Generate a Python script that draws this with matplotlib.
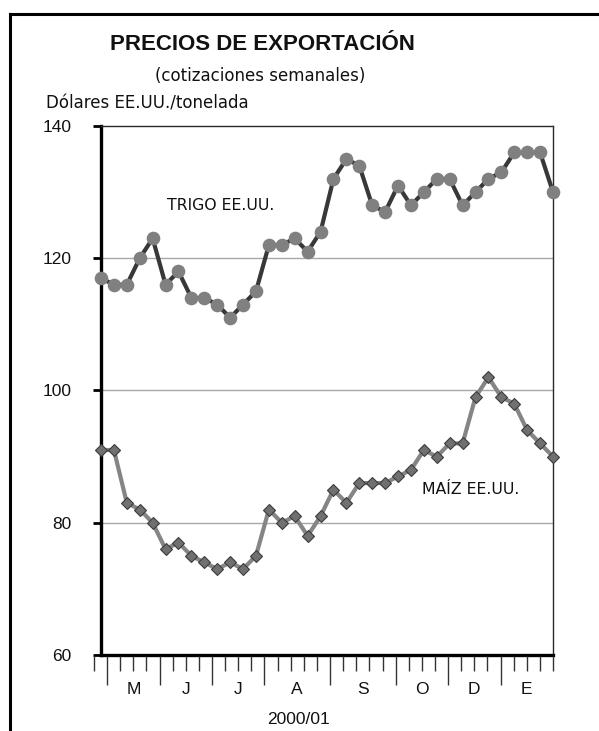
import numpy as np
import matplotlib
matplotlib.use("Agg")
import matplotlib.pyplot as plt
import matplotlib.transforms as mtransforms
from matplotlib.lines import Line2D

plt.rcParams['font.family'] = ['Liberation Sans', 'DejaVu Sans']

# ---- data ----
wheat = [117, 116, 116, 120, 123, 116, 118, 114, 114, 113, 111, 113, 115, 122, 122, 123,
         121, 124, 132, 135, 134, 128, 127, 131, 128, 130, 132, 132, 128, 130, 132, 133,
         136, 136, 136, 130]
maize = [91, 91, 83, 82, 80, 76, 77, 75, 74, 73, 74, 73, 75, 82, 80, 81,
         78, 81, 85, 83, 86, 86, 86, 87, 88, 91, 90, 92, 92, 99, 102, 99,
         98, 94, 92, 90]
months = ['M', 'J', 'J', 'A', 'S', 'O', 'D', 'E']
month_bounds = [1, 5, 9, 13, 18, 23, 27, 31, 35]
yticks = [60, 80, 100, 120, 140]

W, H = 599, 731
fig = plt.figure(figsize=(W / 100, H / 100), dpi=100)


def fx(x):
    return x / W


def fy(y):
    return 1 - y / H


L, R, T, B = 101, 553, 126, 655
ax = fig.add_axes([fx(L), fy(B), (R - L) / W, (B - T) / H])
x = np.arange(len(wheat))
ax.set_xlim(0, len(wheat) - 1)
ax.set_ylim(60, 140)

for v in yticks[1:-1]:
    ax.axhline(v, color='#a8a8a8', lw=1.0, zorder=1)

ax.plot(x, wheat, color='#383838', lw=3.0, marker='o', markersize=8.8,
        markerfacecolor='#808080', markeredgecolor='#808080', clip_on=False, zorder=3)
ax.plot(x, maize, color='#858585', lw=3.0, marker='D', markersize=6.5,
        markerfacecolor='#707070', markeredgecolor='#3c3c3c', markeredgewidth=0.8,
        clip_on=False, zorder=3)

ax.set_yticks(yticks)
ax.set_yticklabels([str(v) for v in yticks], fontsize=12.5, color='#111111')
ax.tick_params(axis='y', direction='out', length=6, width=2, color='black', pad=15)
ax.set_xticks([])

ax.spines['left'].set_linewidth(2.4)
ax.spines['left'].set_color('black')
ax.spines['bottom'].set_linewidth(2.4)
ax.spines['bottom'].set_color('black')
for s in ('top', 'right'):
    ax.spines[s].set_linewidth(1.0)
    ax.spines[s].set_color('#2a2a2a')

# separate tick axis for week ticks (between categories)
TL, TR = 94, 553
tax = fig.add_axes([fx(TL), fy(B + 1), (TR - TL) / W, 0.0001])
n_ticks = len(wheat)
tax.set_xlim(0, n_ticks - 1)
for s in tax.spines.values():
    s.set_visible(False)
tax.set_yticks([])
major = month_bounds[:-1]
tax.set_xticks(major)
tax.set_xticklabels([])
tax.tick_params(axis='x', which='major', length=21, width=1.0, color='#333333')
minor_pos = [i for i in range(n_ticks) if i not in major]
mid = [(a + b) / 2 for a, b in zip(month_bounds[:-1], month_bounds[1:])]
tax.set_xticks(minor_pos, minor=True)
tax.tick_params(axis='x', which='minor', length=10.8, width=1.0, color='#333333')
lab_tr = mtransforms.blended_transform_factory(tax.transData, fig.transFigure)
for m, lab in zip(mid, months):
    tax.text(m, fy(690), lab, transform=lab_tr, ha='center', va='center',
             fontsize=12.5, color='#111111')

fig.text(fx(298), fy(719), '2000/01', ha='center', va='center', fontsize=12.5, color='#111111')

fig.text(fx(262), fy(45), 'PRECIOS DE EXPORTACIÓN', ha='center', va='center',
         fontsize=16, fontweight='bold', color='#111111')
fig.text(fx(260), fy(76), '(cotizaciones semanales)', ha='center', va='center',
         fontsize=12, color='#111111', family=['DejaVu Sans'])
fig.text(fx(46), fy(103), 'Dólares EE.UU./tonelada', ha='left', va='center',
         fontsize=12, color='#111111', family=['DejaVu Sans'])
fig.text(fx(167), fy(206), 'TRIGO EE.UU.', ha='left', va='center', fontsize=11.3,
         color='#111111', family=['DejaVu Sans'])
fig.text(fx(422), fy(490), 'MAÍZ EE.UU.', ha='left', va='center', fontsize=11.3,
         color='#111111', family=['DejaVu Sans'])

# outer border (left and top)
fig.add_artist(Line2D([fx(10), fx(10)], [fy(14), 0], transform=fig.transFigure,
                      color='black', lw=2.2))
fig.add_artist(Line2D([fx(10), 1], [fy(14), fy(14)], transform=fig.transFigure,
                      color='black', lw=2.2))

fig.savefig('out.png', dpi=100, facecolor='white')
